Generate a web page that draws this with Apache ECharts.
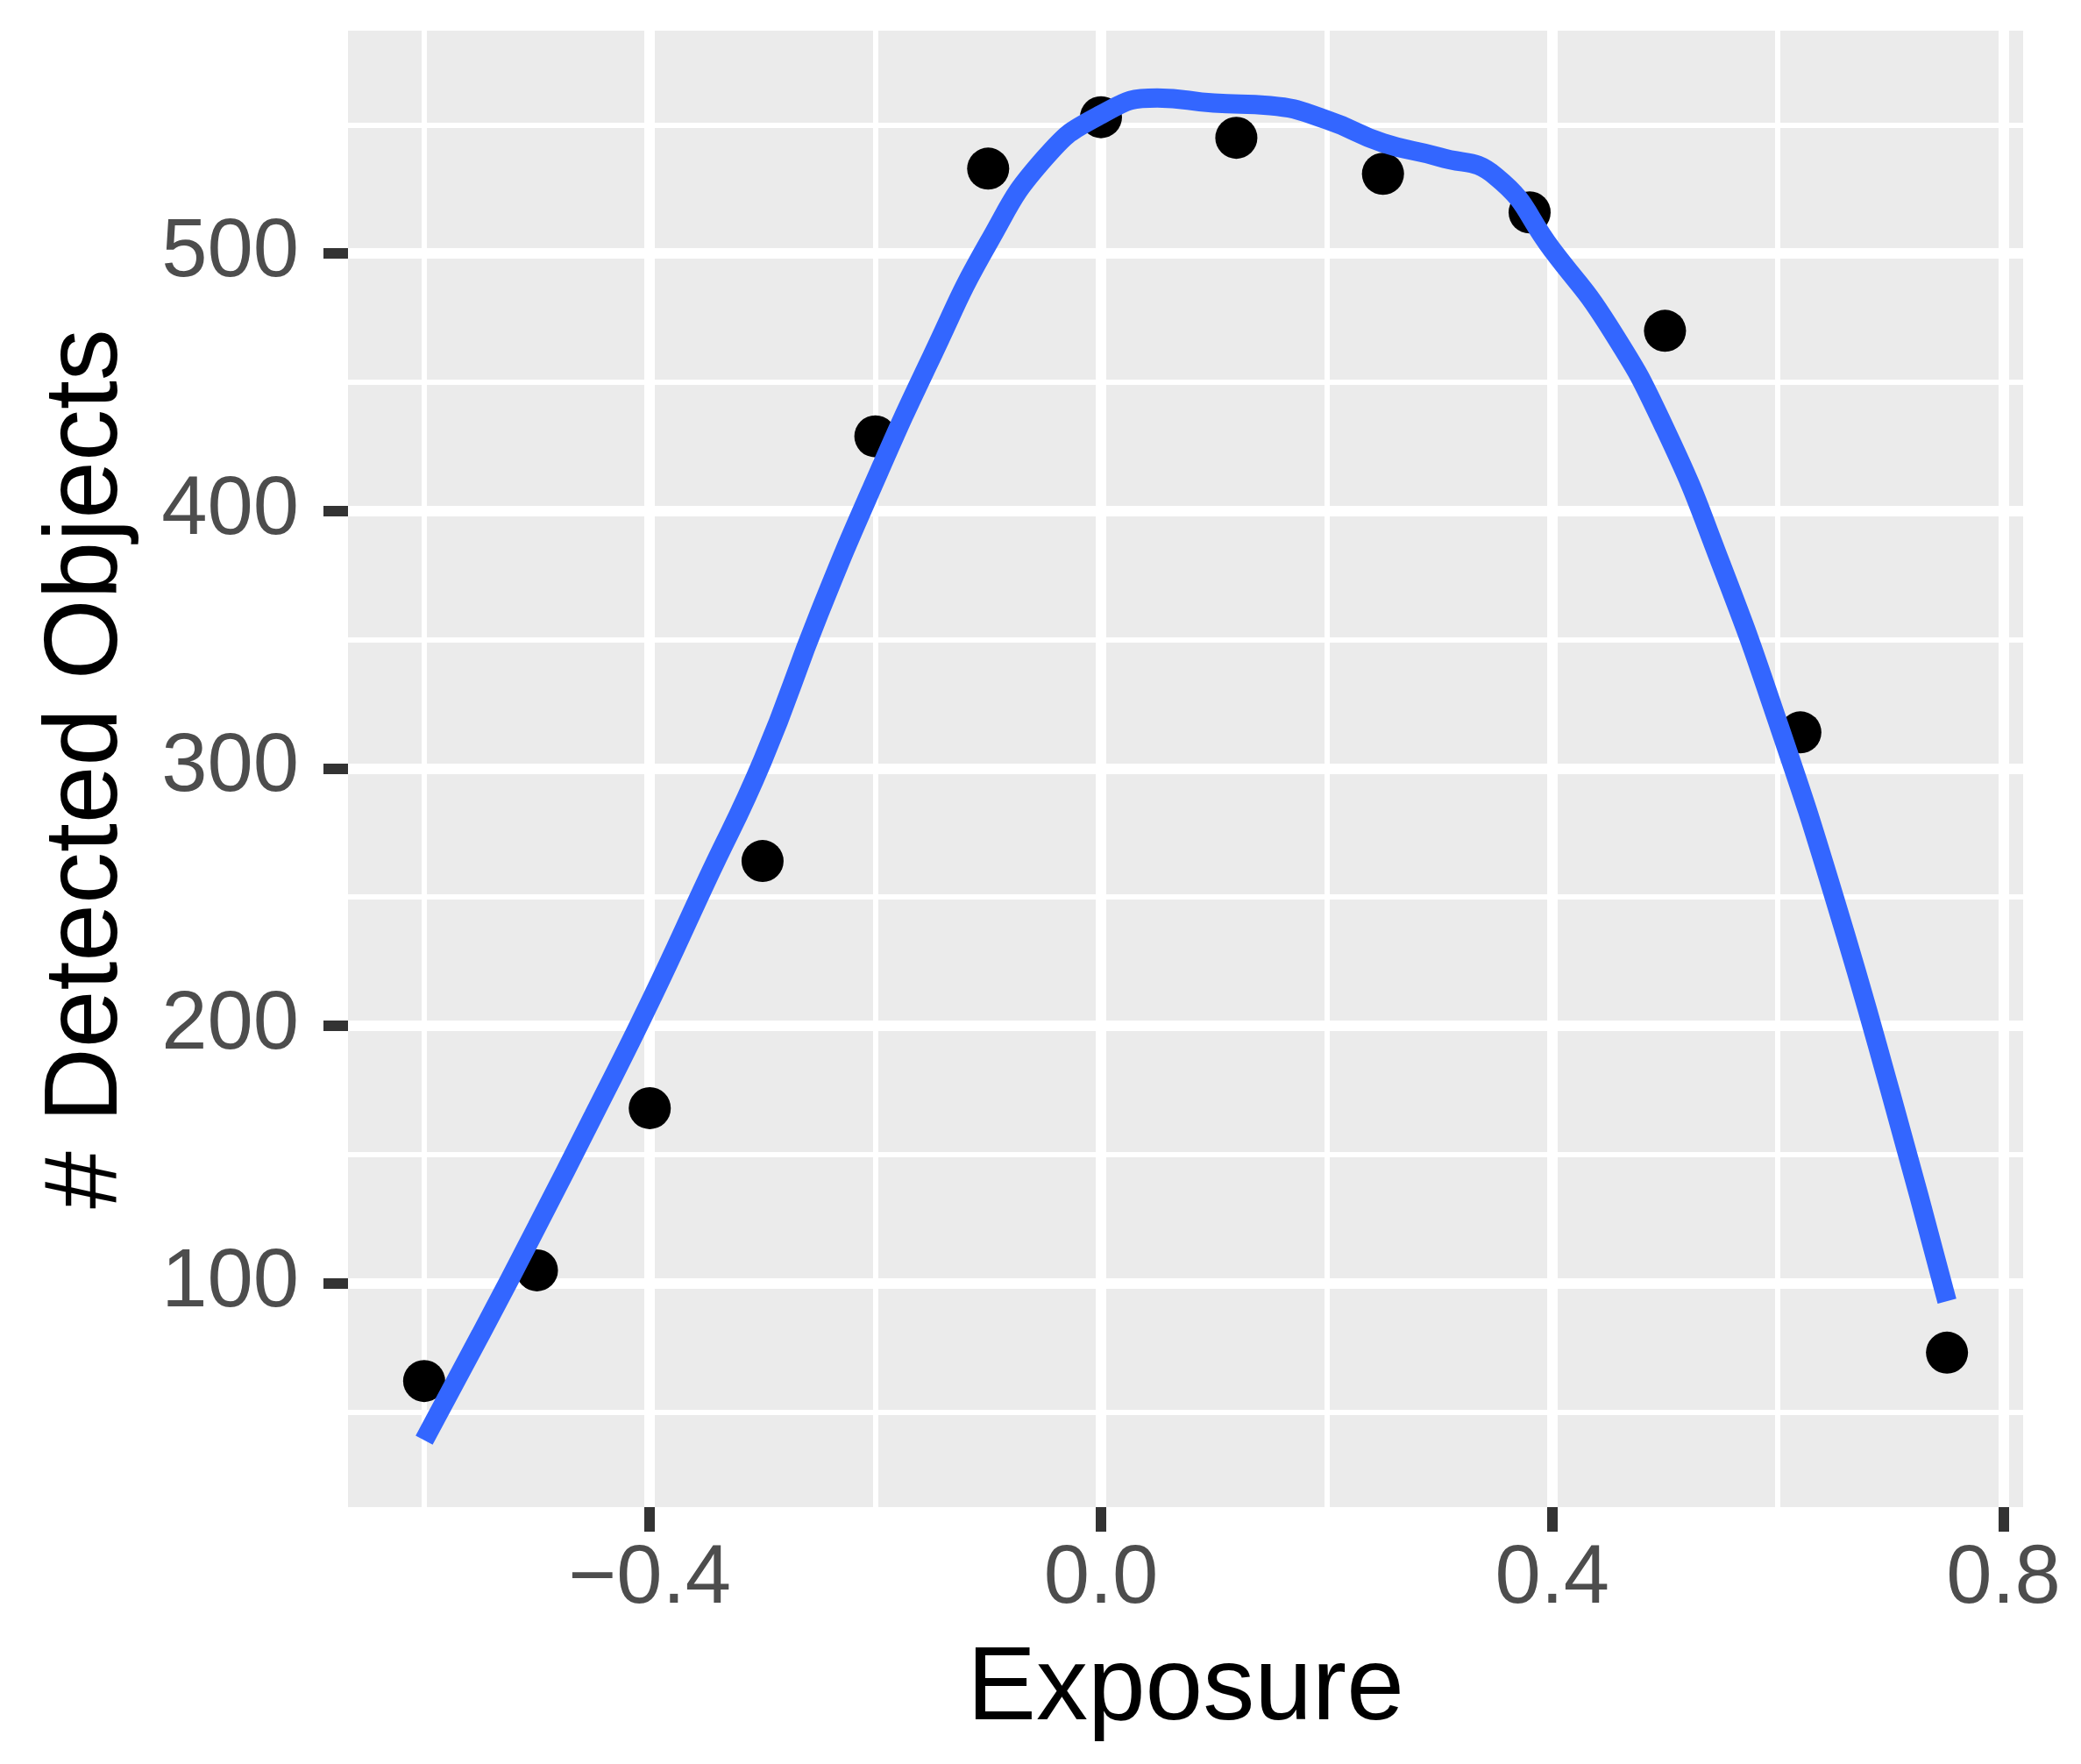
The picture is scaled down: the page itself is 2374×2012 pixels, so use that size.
<!DOCTYPE html>
<html><head><meta charset="utf-8">
<script src="https://cdn.jsdelivr.net/npm/echarts@6/dist/echarts.min.js"></script>
<style>html,body{margin:0;padding:0;background:#fff}#c{width:2374px;height:2012px}</style>
</head><body><div id="c"></div>
<script>
// Observed points
const exposure = [-0.6, -0.5, -0.4, -0.3, -0.2, -0.1, 0.0, 0.12, 0.25, 0.38, 0.5, 0.62, 0.75];
const detected = [62, 105, 168, 264, 429, 533, 553, 545, 531, 516, 470, 314, 73];
// Smoothed (loess) curve, every 0.05
const smoothX = [-0.60, -0.55, -0.50, -0.45, -0.40, -0.35, -0.30, -0.25, -0.20, -0.15, -0.10, -0.05, 0.00, 0.05, 0.10, 0.15, 0.20, 0.25, 0.30, 0.35, 0.40, 0.45, 0.50, 0.55, 0.60, 0.65, 0.70, 0.75];
const smoothY = [39, 80, 122, 165, 209, 256, 303, 360, 412, 460, 504, 537, 554, 560.5, 558.5, 557.5, 552, 543, 537.5, 530, 501.5, 472, 432, 379, 318, 250, 174, 93];
// Tick labels / gridlines
const xMajorTicks = [-0.4, 0.0, 0.4, 0.8];
const xMinorTicks = [-0.6, -0.2, 0.2, 0.6];
const yMajorTicks = [100, 200, 300, 400, 500];
const yMinorTicks = [50, 150, 250, 350, 450, 550];
const xTitle = 'Exposure';
const yTitle = '# Detected Objects';

const X_MIN = -0.6675, X_MAX = 0.8175, Y_MIN = 13.0, Y_MAX = 586.6;
const FONT = 'Liberation Sans, Arial, Helvetica, sans-serif';

const chart = echarts.init(document.getElementById('c'), null, {renderer: 'canvas'});
const noLine = {show: false, onZero: false};
const fmtX = v => (Math.round(v * 10) / 10).toFixed(1).replace('-', '\u2212');

chart.setOption({
  backgroundColor: '#ffffff',
  animation: false,
  grid: {left: 397, right: 66, top: 35, bottom: 293, show: true, backgroundColor: '#EBEBEB', borderWidth: 0, containLabel: false, outerBoundsMode: 'none'},
  xAxis: [
    {
      type: 'value', min: X_MIN, max: X_MAX, gridIndex: 0, z: 1,
      axisLine: noLine,
      axisTick: {show: true, length: 28, lineStyle: {color: '#333333', width: 12}, customValues: xMajorTicks},
      axisLabel: {show: true, margin: 36, fontSize: 94, color: '#4D4D4D', fontFamily: FONT, customValues: xMajorTicks, formatter: fmtX},
      splitLine: {show: true, lineStyle: {color: '#ffffff', width: 12}},
      name: xTitle, nameLocation: 'middle', nameGap: 150,
      nameTextStyle: {fontSize: 118, color: '#000000', fontFamily: FONT}
    },
    {
      type: 'value', min: X_MIN, max: X_MAX, gridIndex: 0, z: 0,
      axisLine: noLine,
      axisTick: {show: false, customValues: xMinorTicks},
      axisLabel: {show: false, customValues: xMinorTicks},
      splitLine: {show: true, lineStyle: {color: '#ffffff', width: 6}}
    }
  ],
  yAxis: [
    {
      type: 'value', min: Y_MIN, max: Y_MAX, gridIndex: 0, z: 1,
      axisLine: noLine,
      axisTick: {show: true, length: 28, lineStyle: {color: '#333333', width: 12}, customValues: yMajorTicks},
      axisLabel: {show: true, margin: 56, fontSize: 94, color: '#4D4D4D', fontFamily: FONT, customValues: yMajorTicks},
      splitLine: {show: true, lineStyle: {color: '#ffffff', width: 12}},
      name: yTitle, nameLocation: 'middle', nameGap: 238, nameRotate: 90,
      nameTextStyle: {fontSize: 118, color: '#000000', fontFamily: FONT}
    },
    {
      type: 'value', min: Y_MIN, max: Y_MAX, gridIndex: 0, z: 0,
      axisLine: noLine,
      axisTick: {show: false, customValues: yMinorTicks},
      axisLabel: {show: false, customValues: yMinorTicks},
      splitLine: {show: true, lineStyle: {color: '#ffffff', width: 6}}
    }
  ],
  series: [
    {
      type: 'scatter', xAxisIndex: 0, yAxisIndex: 0, z: 2,
      symbol: 'circle', symbolSize: 48,
      itemStyle: {color: '#000000', opacity: 1},
      data: exposure.map((x, i) => [x, detected[i]])
    },
    {
      type: 'line', xAxisIndex: 0, yAxisIndex: 0, z: 3,
      showSymbol: false, smooth: 0.5,
      lineStyle: {color: '#3366FF', width: 22, cap: 'butt'},
      data: smoothX.map((x, i) => [x, smoothY[i]])
    }
  ]
});
</script></body></html>
